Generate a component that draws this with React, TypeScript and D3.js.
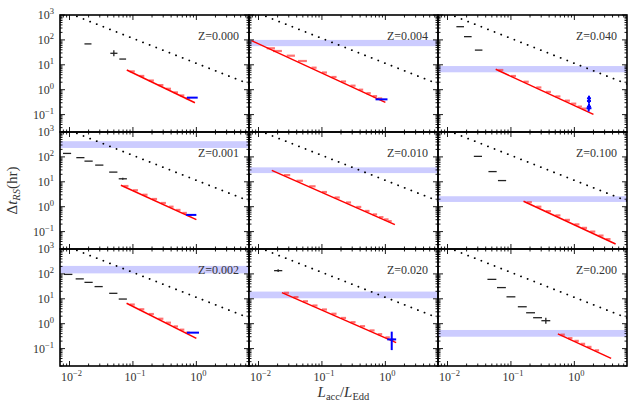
import * as d3 from 'd3';

// panel order: row by row, left to right
const Z_VALUES = ['0.000', '0.004', '0.040', '0.001', '0.010', '0.100', '0.002', '0.020', '0.200'];

const X_DOMAIN: [number, number] = [0.00708, 6.76];
const Y_DOMAIN: [number, number] = [0.02, 1000];
const X_LABELS = [{ v: 0.01, e: '−2' }, { v: 0.1, e: '−1' }, { v: 1, e: '0' }];
const Y_LABELS = [{ v: 1000, e: '3' }, { v: 100, e: '2' }, { v: 10, e: '1' }, { v: 1, e: '0' }, { v: 0.1, e: '−1' }];

// Eddington-limit reference line (same in every panel)
const DOTTED: [number, number][] = [[0.005, 2300], [10, 1.15]];

// light blue horizontal bands [lo, hi]
const BANDS: ([number, number] | null)[] = [
    null, [56, 100], [5.0, 8.9],
    [229, 427], [22.4, 38.0], [1.55, 2.63],
    [105, 209], [10.5, 19.5], [0.30, 0.56],
];

// black binned points: x, y, xlo, xhi, ylo?, yhi?
type Bar = number[];
const BLACK: Bar[][] = [
    [[0.0195, 69, 0.0172, 0.0222], [0.050, 29, 0.044, 0.057, 22, 38], [0.069, 17, 0.061, 0.078]],
    [],
    [[0.0158, 339, 0.0138, 0.0182], [0.0209, 135, 0.0182, 0.024], [0.0309, 38.9, 0.027, 0.0355]],
    [[0.00912, 138, 0.0079, 0.0106], [0.0148, 93.3, 0.0128, 0.0172], [0.0200, 67.6, 0.0172, 0.0232],
     [0.0295, 46.8, 0.0254, 0.0342], [0.0490, 24.5, 0.0422, 0.0569], [0.0692, 13.2, 0.0597, 0.0803, 12.0, 14.5]],
    [],
    [[0.0302, 105, 0.026, 0.035], [0.0513, 25.7, 0.0442, 0.0596], [0.0724, 11.2, 0.0624, 0.084]],
    [[0.00955, 95.5, 0.0082, 0.0111], [0.0145, 63.1, 0.0125, 0.0168], [0.0200, 45.7, 0.0172, 0.0232],
     [0.0288, 30.9, 0.0248, 0.0334], [0.0490, 16.6, 0.0422, 0.0569], [0.0692, 9.77, 0.0597, 0.0803]],
    [[0.0204, 135, 0.0176, 0.0237, 120, 152]],
    [[0.0501, 60.3, 0.0426, 0.0589], [0.0708, 28.2, 0.0603, 0.0832], [0.100, 12.0, 0.0851, 0.1175],
     [0.151, 4.79, 0.1285, 0.1774], [0.204, 2.75, 0.1736, 0.2397], [0.263, 1.74, 0.2238, 0.309],
     [0.355, 1.32, 0.302, 0.417, 1.0, 1.74]],
];

// red fitted power law, two end points
const FIT: [number, number][][] = [
    [[0.080, 6.2], [0.95, 0.30]],
    [[0.00776, 93.3], [1.0, 0.31]],
    [[0.0575, 6.61], [2.0, 0.102]],
    [[0.0646, 7.24], [1.0, 0.302]],
    [[0.0162, 28.8], [1.413, 0.19]],
    [[0.158, 1.66], [4.47, 0.0316]],
    [[0.0794, 6.61], [1.0, 0.257]],
    [[0.0234, 17.8], [1.479, 0.174]],
    [[0.550, 0.389], [3.80, 0.0407]],
];

// light red binned steps: xlo, xhi, y
const STEPS: number[][][] = [
    [[0.089, 0.107, 5.43], [0.126, 0.151, 3.56], [0.178, 0.214, 2.33], [0.251, 0.302, 1.53],
     [0.331, 0.398, 1.09], [0.437, 0.513, 0.778], [0.550, 0.646, 0.587], [0.676, 0.794, 0.456]],
    [[0.01345, 0.01816, 46.0], [0.0169, 0.0234, 35.8], [0.0278, 0.0375, 23.2], [0.0419, 0.0579, 14.2],
     [0.0687, 0.0824, 7.66], [0.100, 0.120, 4.90], [0.141, 0.170, 3.24], [0.200, 0.240, 2.14],
     [0.282, 0.339, 1.45], [0.380, 0.447, 1.00], [0.501, 0.589, 0.724], [0.631, 0.741, 0.550],
     [0.759, 0.891, 0.447]],
    [[0.0631, 0.0759, 6.17], [0.100, 0.120, 3.55], [0.158, 0.191, 2.09], [0.251, 0.302, 1.23],
     [0.355, 0.427, 0.813], [0.501, 0.603, 0.537], [0.708, 0.851, 0.363], [0.891, 1.072, 0.275],
     [1.122, 1.318, 0.209], [1.318, 1.549, 0.174]],
    [[0.0708, 0.0851, 6.76], [0.100, 0.120, 4.57], [0.141, 0.170, 3.02], [0.200, 0.240, 2.04],
     [0.275, 0.331, 1.41], [0.372, 0.437, 1.00], [0.479, 0.562, 0.741], [0.603, 0.708, 0.562],
     [0.724, 0.851, 0.457]],
    [[0.0251, 0.0316, 18.6], [0.0398, 0.0501, 11.0], [0.0631, 0.0794, 6.61], [0.100, 0.120, 3.89],
     [0.158, 0.191, 2.34], [0.240, 0.288, 1.48], [0.347, 0.417, 0.977], [0.479, 0.562, 0.676],
     [0.631, 0.741, 0.490], [0.794, 0.933, 0.380], [0.955, 1.122, 0.309], [1.096, 1.259, 0.263]],
    [[0.178, 0.214, 1.51], [0.251, 0.302, 1.00], [0.355, 0.427, 0.661], [0.501, 0.603, 0.447],
     [0.708, 0.851, 0.295], [1.0, 1.202, 0.195], [1.318, 1.585, 0.141], [1.778, 2.138, 0.100],
     [2.399, 2.884, 0.0692], [3.162, 3.715, 0.0501]],
    [[0.0891, 0.107, 5.89], [0.126, 0.151, 3.80], [0.178, 0.214, 2.45], [0.251, 0.302, 1.58],
     [0.331, 0.398, 1.10], [0.437, 0.513, 0.776], [0.550, 0.646, 0.575], [0.676, 0.794, 0.437]],
    [[0.0251, 0.0302, 17.4], [0.0355, 0.0427, 11.7], [0.0501, 0.0603, 7.94], [0.0708, 0.0851, 5.37],
     [0.100, 0.120, 3.72], [0.141, 0.170, 2.51], [0.200, 0.240, 1.70], [0.282, 0.339, 1.15],
     [0.398, 0.479, 0.794], [0.562, 0.676, 0.537], [0.759, 0.891, 0.380], [1.0, 1.175, 0.282],
     [1.202, 1.380, 0.229]],
    [[0.603, 0.708, 0.363], [0.794, 0.933, 0.263], [1.0, 1.175, 0.204], [1.259, 1.479, 0.155],
     [1.585, 1.862, 0.117], [2.089, 2.455, 0.0851]],
];

// blue observed points: x, y, xlo, xhi, ylo?, yhi?
const BLUE: Bar[][] = [
    [[0.85, 0.48, 0.71, 1.05]],
    [[0.87, 0.41, 0.70, 1.08]],
    [[1.70, 0.45, 1.58, 1.83, 0.36, 0.575], [1.70, 0.35, 1.58, 1.83, 0.28, 0.45],
     [1.70, 0.21, 1.58, 1.83, 0.16, 0.28], [1.68, 0.18, 1.55, 1.86, 0.132, 0.22]],
    [[0.83, 0.468, 0.69, 1.0]],
    [],
    [],
    [[0.89, 0.437, 0.71, 1.10]],
    [[1.26, 0.234, 1.07, 1.48, 0.087, 0.479]],
    [],
];

const LEFT = 60;
const TOP = 15;
const PW = 189;
const PH = 117;
const FONT = '"Liberation Serif", "DejaVu Serif", serif';

function Panel({ i }: { i: number }) {
    const col = i % 3;
    const row = Math.floor(i / 3);
    const x = d3.scaleLog().domain(X_DOMAIN).range([0, PW]);
    const y = d3.scaleLog().domain(Y_DOMAIN).range([PH, 0]);
    const line = d3.line<[number, number]>().x(d => x(d[0])).y(d => y(d[1]));
    const isMajor = (v: number) => Math.abs(Math.log10(v) - Math.round(Math.log10(v))) < 1e-6;
    const xt = x.ticks();
    const yt = y.ticks();
    const band = BANDS[i];
    const clipId = `clip${i}`;

    const bars = (list: Bar[], color: string, width: number) =>
        list.map((b, k) => (
            <g key={k} stroke={color} strokeWidth={width}>
                <line x1={x(b[2])} x2={x(b[3])} y1={y(b[1])} y2={y(b[1])} />
                {b.length > 4 && <line x1={x(b[0])} x2={x(b[0])} y1={y(b[4])} y2={y(b[5])} />}
            </g>
        ));

    return (
        <g transform={`translate(${LEFT + col * PW},${TOP + row * PH})`}>
            <defs>
                <clipPath id={clipId}><rect width={PW} height={PH} /></clipPath>
            </defs>
            <g clipPath={`url(#${clipId})`}>
                {band && (
                    <rect x={0} width={PW} y={y(band[1])} height={y(band[0]) - y(band[1])} fill="#ccccff" />
                )}
                <path d={line(DOTTED) ?? ''} fill="none" stroke="#000" strokeWidth={1.8}
                    strokeDasharray="0.1 7" strokeLinecap="round" />
                {bars(BLACK[i], '#222', 1.3)}
                {STEPS[i].map((s, k) => (
                    <line key={k} x1={x(s[0])} x2={x(s[1])} y1={y(s[2])} y2={y(s[2])}
                        stroke="rgba(255,40,40,0.65)" strokeWidth={2.2} />
                ))}
                <path d={line(FIT[i] as [number, number][]) ?? ''} fill="none" stroke="#ff0000" strokeWidth={1.5} />
                {bars(BLUE[i], '#0000ff', 2)}
            </g>
            <g stroke="#000" strokeWidth={0.9}>
                {xt.map((v, k) => {
                    const len = isMajor(v) ? 5 : 2.5;
                    return (
                        <g key={k}>
                            <line x1={x(v)} x2={x(v)} y1={PH} y2={PH - len} />
                            <line x1={x(v)} x2={x(v)} y1={0} y2={len} />
                        </g>
                    );
                })}
                {yt.map((v, k) => {
                    const len = isMajor(v) ? 5 : 2.5;
                    return (
                        <g key={k}>
                            <line x1={0} x2={len} y1={y(v)} y2={y(v)} />
                            <line x1={PW} x2={PW - len} y1={y(v)} y2={y(v)} />
                        </g>
                    );
                })}
            </g>
            <rect width={PW} height={PH} fill="none" stroke="#000" strokeWidth={1.6} />
            <text x={PW - 10} y={25} textAnchor="end" fontSize={12} fill="#333" fontFamily={FONT}>
                Z={Z_VALUES[i]}
            </text>
            {col === 0 && Y_LABELS.map((t, k) => (
                <text key={k} x={-6} y={y(t.v) + 4} textAnchor="end" fontSize={12} fill="#333" fontFamily={FONT}>
                    10<tspan dy={-5} fontSize={8.5}>{t.e}</tspan>
                </text>
            ))}
            {row === 2 && X_LABELS.map((t, k) => (
                <text key={k} x={x(t.v) + 2} y={PH + 15} textAnchor="middle" fontSize={12} fill="#333" fontFamily={FONT}>
                    10<tspan dy={-5} fontSize={8.5}>{t.e}</tspan>
                </text>
            ))}
        </g>
    );
}

export default function App() {
    return (
        <>
            <style>{'body{margin:0}'}</style>
            <svg width={638} height={411} style={{ display: 'block', background: '#fff' }}>
                {Z_VALUES.map((_, i) => <Panel key={i} i={i} />)}
                <text transform={`translate(17,${TOP + 1.5 * PH}) rotate(-90)`} textAnchor="middle"
                    fontSize={15} fill="#333" fontFamily={FONT}>
                    Δ<tspan fontStyle="italic">t</tspan>
                    <tspan fontStyle="italic" fontSize={10.5} dy={3}>RS</tspan>
                    <tspan dy={-3}>(hr)</tspan>
                </text>
                <text x={LEFT + 1.5 * PW} y={397} textAnchor="middle" fontSize={15} fill="#333" fontFamily={FONT}>
                    <tspan fontStyle="italic">L</tspan>
                    <tspan fontSize={10.5} dy={3}>acc</tspan>
                    <tspan dy={-3}>/</tspan>
                    <tspan fontStyle="italic">L</tspan>
                    <tspan fontSize={10.5} dy={3}>Edd</tspan>
                </text>
            </svg>
        </>
    );
}
